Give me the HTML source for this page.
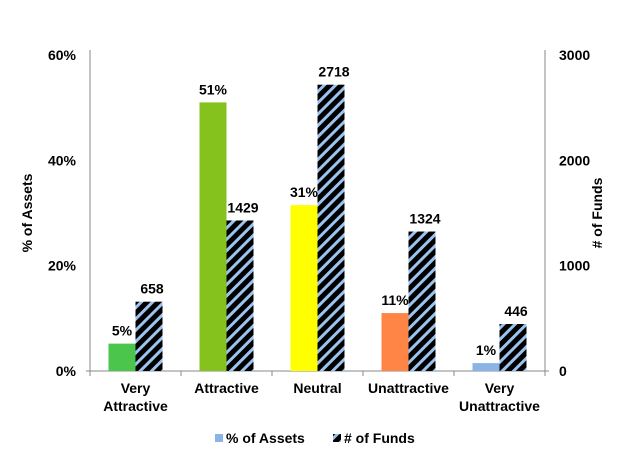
<!DOCTYPE html>
<html><head><meta charset="utf-8"><style>
body{margin:0;background:#fff;}
svg text{font-family:"Liberation Sans",Arial,sans-serif;font-weight:bold;}
</style></head><body>
<svg id="chart" width="630" height="463" viewBox="0 0 630 463" xmlns="http://www.w3.org/2000/svg">
<defs>
<pattern id="hatch" patternUnits="userSpaceOnUse" width="8" height="8" patternTransform="rotate(45)">
<rect width="8" height="8" fill="#000"/>
<rect x="0" y="0" width="3" height="8" fill="#9cc3ee"/>
</pattern>
</defs>
<g id="plot"></g>
</svg>
<script>
const categories=[["Very","Attractive"],["Attractive"],["Neutral"],["Unattractive"],["Very","Unattractive"]];
const assetPct=[5.2,51,31.5,11,1.5];
const assetLabels=["5%","51%","31%","11%","1%"];
const funds=[658,1429,2718,1324,446];
const leftTicks=[0,20,40,60];
const rightTicks=[0,1000,2000,3000];
const colors=["#4cc54c","#86c21e","#ffff00","#ff8547","#8ab4e6"];
const NS="http://www.w3.org/2000/svg";
const g=document.getElementById('plot');
const X0=90,X1=545,Y0=371,Y1=55;
const yL=v=>Y0-(v/60)*(Y0-Y1);
const yR=v=>Y0-(v/3000)*(Y0-Y1);
const bw=(X1-X0)/categories.length;
const cx=i=>X0+bw*(i+0.5);
function el(t,a,txt){const e=document.createElementNS(NS,t);for(const k in a)e.setAttribute(k,a[k]);if(txt!=null)e.textContent=txt;g.appendChild(e);return e;}
let a=el('line',{x1:X0,y1:Y1-5,x2:X0,y2:Y0,stroke:'#888'});

a=el('line',{x1:X1,y1:Y1-5,x2:X1,y2:Y0,stroke:'#888'});

a=el('line',{x1:X0-4,y1:Y0,x2:X1+4,y2:Y0,stroke:'#888'});

leftTicks.forEach(v=>{const t=el('text',{x:X0-14,y:yL(v)+5,'text-anchor':'end','font-size':14},v+'%');
});
rightTicks.forEach(v=>{const t=el('text',{x:X1+14,y:yR(v)+5,'text-anchor':'start','font-size':14},String(v));
});
for(let i=0;i<=categories.length;i++){const t=el('line',{x1:X0+bw*i,y1:Y0,x2:X0+bw*i,y2:Y0+5,stroke:'#888'});
}
categories.forEach((c,i)=>{
const w=27;
const r1=el('rect',{x:cx(i)-w,y:yL(assetPct[i]),width:w,height:Y0-yL(assetPct[i]),fill:colors[i]});

const r2=el('rect',{x:cx(i),y:yR(funds[i]),width:w,height:Y0-yR(funds[i]),fill:'url(#hatch)'});

const l1=el('text',{x:cx(i)-w/2,y:yL(assetPct[i])-8,'text-anchor':'middle','font-size':14},assetLabels[i]);

const l2=el('text',{x:cx(i)+w/2+3,y:yR(funds[i])-8,'text-anchor':'middle','font-size':14},String(funds[i]));

c.forEach((s,k)=>{const t=el('text',{x:cx(i),y:393+k*18,'text-anchor':'middle','font-size':14},s);
});
});
let t=el('text',{x:0,y:0,'text-anchor':'middle','font-size':14,transform:`translate(32,${(Y0+Y1)/2}) rotate(-90)`},'% of Assets');

t=el('text',{x:0,y:0,'text-anchor':'middle','font-size':14,transform:`translate(602,${(Y0+Y1)/2}) rotate(-90)`},'# of Funds');

let r=el('rect',{x:215,y:434,width:8,height:8,fill:'#8ab4e6'});

t=el('text',{x:226,y:443,'font-size':14},'% of Assets');

r=el('rect',{x:333,y:434,width:8,height:8,fill:'url(#hatch)'});

t=el('text',{x:344,y:443,'font-size':14},'# of Funds');

</script>
</body></html>
